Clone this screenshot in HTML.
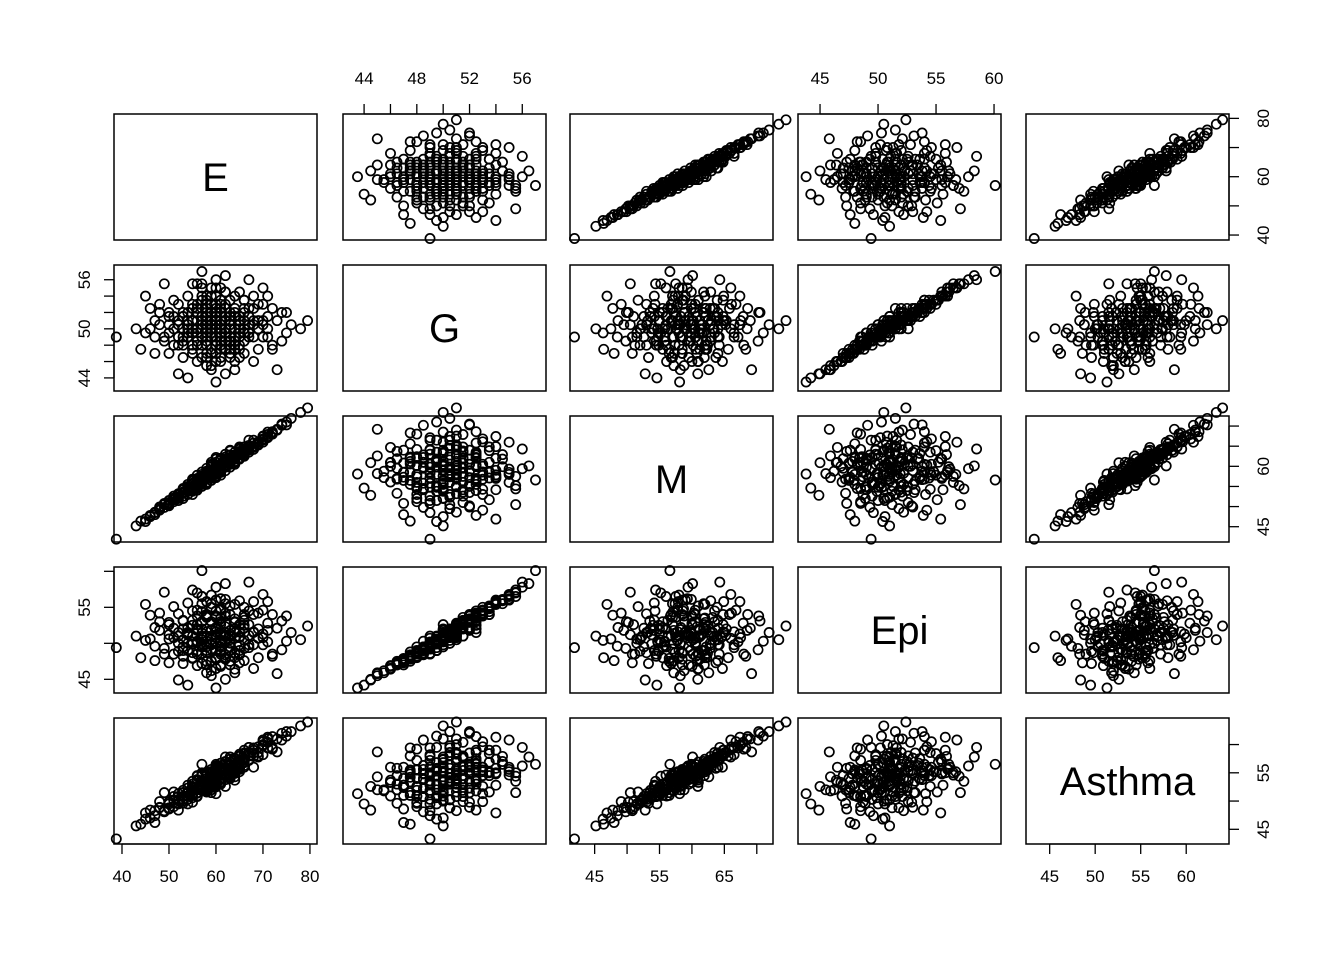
<!DOCTYPE html>
<html><head><meta charset="utf-8"><style>
body{margin:0;background:#fff}
svg{display:block;font-family:"Liberation Sans",Arial,sans-serif}
</style></head><body>
<svg id="chart" width="1344" height="960" viewBox="0 0 1344 960"></svg>
<script>
const varNames = ["E","G","M","Epi","Asthma"];
const E = [60,52,67,71,55,63,48,58,65,59,74,45,62,56,69,53,61,66,50,57,64,60,54,72,47,59,68,51,62,55,76,43,58,65,61,53,70,57,63,49,60,66,56,73,46,62,54,67,58,64,51,59,71,44,61,57,69,52,63,55,75,48,60,65,56,68,50,62,58,64,53,70,47,61,66,54,59,72,57,63,38.8,79.5,78,60,57,67,52,49,73,45,61,64,56,62,58,69,51,65,55,60,71,46,63,57,66,50,59,74,54,62,68,53,60,65,48,58,70,61,56,67,64,52,59,72,57,63,55,69,60,50,66,58,62,54,75,47,61,65,57,53,68,59,64,51,70,56,62,60,55,66,
58,61,59,62,57,60,63,56,64,55,60,58,62,59,61,57,65,54,60,63,58,61,56,66,59,62,55,64,60,57,67,53,61,58,63,59,60,56,64,62,57,59,65,54,61,60,58,63,55,66,52,68,59,62,57,60,64,56,61,58,67,53,62,59,65,55,60,63,57,61,70,50,58,64,56,62,59,66,54,60,63,57,68,52,61,58,65,55,62,60,49,71,57,64,59,53,66,61,58,63];
const G = [50,48,51.5,49,53,46.5,50.5,54,47.5,51,52,49.5,44.5,55.5,50,52,48.5,53.5,47,50,51.5,56,49,48,51,45.5,52.5,50,49.5,47.5,50.5,50,52.5,54.5,46,51.5,49,55,50.5,48.5,53,47,49.5,51,52.5,56.5,44,49,51,48,53.5,50,54,47.5,52,46.5,51,50.5,53.5,51,49.5,53,47,50,52.5,46,51.5,54.5,48,52,46.5,53,49,50.5,49.5,54,52,47.5,49,51,49,51,50,43.5,57,56,44.5,55.5,45,54,55,45,50,51.5,49,53,48,51.5,52.5,48.5,51.5,50,47.5,53.5,51,52,55,48.5,50,47.5,54,49,51.5,46.5,52,53,50.5,49,48,50.5,54,53,47,52.5,51.5,48.5,55.5,47.5,52.5,49.5,52.5,45.5,50,51,52,47,53.5,49,50.5,48.5,50.5,54,46,51.5,55,46,52.5,50,49.5,48.5,
50.5,49.5,51,50,49,51.5,50.5,50,49,51,52,48.5,51,49,50,52.5,50.5,49.5,48,52,51.5,47.5,51,51,53,48.5,48,51.5,50.5,50,49.5,51.5,52.5,47,49,50,54,52,50,53,48,52,48,50.5,51,46,53.5,51.5,50,52,49,51,47.5,49.5,51,52.5,47.5,53,48,49.5,52.5,50,54.5,50.5,49.5,47,49,50,54,46.5,51,50.5,52,52.5,48.5,51,45,50,52,51,47,50.5,49,51,53,46.5,51,52.5,47.5,55,49,50,55.5,48.5,49.5,48,53.5,50.5,50,48];
const M = [59.1,52.0,64.8,67.1,54.3,61.9,49.5,57.9,62.1,58.2,70.5,46.3,60.9,55.2,66.0,53.5,59.5,63.9,50.8,56.3,62.1,59.4,54.8,68.0,48.6,58.8,65.8,52.1,59.8,55.5,71.9,45.2,57.0,62.9,60.0,53.6,66.5,56.0,61.6,49.8,58.6,64.0,55.2,69.0,47.8,60.1,54.6,64.0,57.8,62.4,51.7,57.7,67.4,46.4,60.5,56.8,65.3,52.3,61.0,54.9,71.0,49.1,58.5,63.4,56.7,64.7,51.0,59.9,57.4,61.8,53.3,66.8,48.5,59.0,63.5,54.2,58.9,68.3,55.8,61.2,41.9,74.5,73.4,58.1,56.6,64.3,52.8,50.5,69.2,46.9,59.3,62.6,54.7,60.8,58.2,66.1,51.2,62.0,56.3,59.8,67.9,47.5,60.6,57.1,64.1,50.2,58.0,70.2,53.8,61.2,64.9,52.6,58.3,63.7,49.9,56.8,67.4,60.6,54.9,65.2,62.0,53.0,57.3,68.6,56.0,62.2,54.4,65.6,59.9,51.5,63.2,57.2,61.4,55.0,70.3,48.0,58.7,63.0,57.4,54.2,66.5,57.4,60.9,52.6,66.0,56.1,60.3,60.4,53.8,62.8,
56.0,61.5,60.2,58.9,58.6,57.5,62.8,54.1,60.5,56.8,61.8,55.8,63.0,57.0,60.0,55.5,64.5,54.8,58.0,60.5,59.5,58.5,57.0,62.5,57.8,61.0,53.0,63.5,58.2,57.5,66.5,54.2,62.0,58.5,59.8,60.5,59.0,55.0,61.2,60.0,56.0,57.2,64.2,53.0,59.5,61.0,58.5,63.8,55.8,64.0,51.5,65.0,56.5,61.2,55.0,62.2,62.0,57.8,60.2,58.0,63.5,52.0,61.8,59.8,61.8,56.5,57.2,64.0,57.0,59.5,67.5,50.5,58.8,62.8,54.5,60.0,58.2,63.2,55.5,59.0,60.8,58.0,64.2,53.2,60.5,57.0,64.8,54.0,62.3,58.5,50.8,68.5,57.5,61.0,61.0,54.5,64.8,57.8,55.5,62.0];
const Epi = [51.2,48.9,52.6,50.2,54.5,47.0,51.8,55.8,48.4,51.9,53.1,50.4,45.0,57.0,50.7,53.1,49.5,55.0,47.3,51.0,52.9,57.8,50.0,48.5,52.2,46.2,54.0,50.8,50.3,48.0,51.5,51.0,53.6,55.9,46.8,52.0,49.8,56.5,51.3,49.3,54.5,47.6,50.1,52.1,53.9,58.3,44.2,49.8,51.6,48.6,55.1,50.5,55.8,48.0,53.0,47.2,52.0,51.0,55.2,52.5,50.3,54.2,47.8,50.9,53.8,46.5,52.6,56.1,48.7,53.4,47.2,54.6,49.6,51.5,50.4,55.6,53.0,48.2,49.7,51.8,49.4,52.4,50.5,43.8,60.1,58.5,44.9,57.1,45.8,55.4,56.2,45.9,50.3,52.3,49.9,54.2,48.5,52.6,53.2,49.0,52.8,50.6,48.2,54.4,52.1,52.9,56.7,49.1,51.2,47.8,55.8,49.5,52.2,47.3,53.0,54.0,51.3,50.1,48.9,51.1,55.4,54.1,47.6,54.0,52.0,49.5,57.4,48.0,53.8,50.6,53.6,45.9,51.1,51.3,53.8,47.6,54.8,49.8,51.4,49.0,51.6,55.5,46.4,52.1,56.8,46.9,54.2,50.8,49.9,49.3,
52.0,49.0,50.5,51.5,48.6,53.6,50.0,51.8,50.7,51.0,52.0,50.3,51.0,49.2,52.6,53.0,50.8,49.0,48.0,54.0,51.0,48.8,52.6,52.5,55.0,48.4,48.7,53.0,50.0,50.9,49.4,53.2,53.5,47.0,51.0,49.8,56.0,52.0,52.0,53.8,49.5,51.8,48.5,51.5,51.2,46.5,54.0,51.0,50.2,53.2,50.0,51.5,47.5,50.9,50.5,52.0,48.0,54.6,48.5,49.0,54.5,50.5,55.5,51.8,49.0,47.9,50.0,50.5,55.5,47.0,50.8,51.2,53.8,51.5,48.5,52.8,45.5,51.5,52.2,51.6,47.5,51.0,49.8,51.5,54.6,47.5,51.6,52.5,48.0,56.0,48.5,51.8,56.5,48.7,51.0,48.2,54.0,50.4,49.5,49.0];
const Asthma = [54.3,49.6,58.0,59.4,52.6,54.5,48.8,55.0,55.2,53.9,62.0,46.8,52.6,54.4,57.8,51.5,53.8,58.4,48.6,52.7,56.3,56.2,51.5,59.2,48.3,52.0,59.0,50.2,54.4,51.0,62.3,45.6,54.0,57.9,53.3,51.9,58.2,54.6,55.8,48.1,55.5,56.0,52.0,61.0,48.4,57.8,49.5,57.2,53.6,55.5,51.6,53.4,61.3,45.9,55.4,52.0,58.6,50.2,56.9,52.4,61.5,49.9,52.8,56.8,53.8,56.0,49.9,56.5,52.6,56.3,49.6,60.5,47.4,54.1,56.8,52.8,54.8,59.4,51.9,55.7,43.3,64.0,63.3,51.3,56.5,59.5,48.4,51.5,58.7,47.9,56.0,54.3,51.5,55.4,53.6,59.6,49.0,56.0,53.5,54.0,60.4,47.0,54.2,54.5,57.5,49.8,55.2,60.8,50.9,54.8,59.0,50.3,54.0,55.8,48.9,54.5,59.8,54.6,50.9,58.6,57.4,51.3,52.4,61.4,52.9,55.6,53.5,58.0,55.4,49.5,57.5,51.8,55.9,51.6,62.3,46.2,55.2,56.0,53.4,50.8,59.4,55.0,53.7,50.8,60.8,50.9,56.0,55.0,50.6,56.3,
53.0,55.8,54.9,53.8,53.5,53.9,56.5,51.4,55.0,53.0,56.0,52.2,56.9,52.8,55.3,53.0,58.0,50.9,52.5,56.5,54.5,53.4,53.6,57.0,55.2,54.8,49.8,57.6,53.6,53.4,59.5,51.5,56.7,52.8,54.8,55.0,55.8,52.3,56.0,56.0,51.9,53.5,57.2,50.3,54.6,53.3,55.0,57.8,52.0,58.5,49.5,58.5,51.5,55.3,52.4,56.5,55.2,54.5,54.0,53.0,58.6,50.0,57.0,54.8,55.6,51.0,53.1,57.4,54.8,53.0,60.0,48.8,55.0,57.1,50.8,55.3,52.0,57.3,52.3,54.5,54.0,53.6,57.9,50.8,56.0,52.0,58.3,51.8,55.5,55.6,48.3,61.0,55.0,54.9,55.6,50.8,59.0,53.3,51.6,55.6];
const seriesList = [E,G,M,Epi,Asthma];
const domains = [[38.3,81.5],[42.4,57.8],[41.2,72.5],[43.1,60.6],[42.4,64.7]];
const ticksE = [40,50,60,70,80];
const ticksG = [44,46,48,50,52,54,56];
const ticksM = [45,50,55,60,65,70];
const ticksEpi = [45,50,55,60];
const ticksAsthma = [45,50,55,60];
const tickList = [ticksE,ticksG,ticksM,ticksEpi,ticksAsthma];
const hLabels = [[40,50,60,70,80],[44,48,52,56],[45,55,65],[45,50,55,60],[45,50,55,60]];
const vLabels = [[40,60,80],[44,50,56],[45,60],[45,55],[45,55]];

const NS="http://www.w3.org/2000/svg";
const svg=document.getElementById('chart');
const colX=[114,343,570,798,1026], rowY=[114,265,416,567,718], PW=203, PH=126;
function mk(t,a,p){const e=document.createElementNS(NS,t);for(const k in a)e.setAttribute(k,a[k]);(p||svg).appendChild(e);return e;}
function xScale(v,c){const d=domains[v];return x=>colX[c]+(x-d[0])/(d[1]-d[0])*PW;}
function yScale(v,r){const d=domains[v];return y=>rowY[r]+PH-(y-d[0])/(d[1]-d[0])*PH;}

for(let r=0;r<5;r++)for(let c=0;c<5;c++){
  const g=mk('g',{});
  
  
  if(r===c){
    const t=mk('text',{x:colX[c]+PW/2,y:rowY[r]+PH/2+14,'text-anchor':'middle','font-size':40},g);
    t.textContent=varNames[r];
    
    
  } else {
    const xs=xScale(c,c), ys=yScale(r,r), X=seriesList[c], Y=seriesList[r];
    for(let i=0;i<X.length;i++){
      const p=mk('circle',{cx:xs(X[i]).toFixed(1),cy:ys(Y[i]).toFixed(1),r:4.6,fill:'none',stroke:'#000','stroke-width':1.7},g);
      
      
    }
  }
  const b=mk('rect',{x:colX[c],y:rowY[r],width:PW,height:PH,fill:'none',stroke:'#000','stroke-width':1.5},g);
  
  
}
const TL=10;
for(let c=0;c<5;c++){
  const top=(c%2===1);
  const ax=mk('g',{});
  
  
  const xs=xScale(c,c), tk=tickList[c];
  const y0=top?rowY[0]:rowY[4]+PH, dir=top?-1:1;
  mk('line',{x1:xs(tk[0]),x2:xs(tk[tk.length-1]),y1:y0,y2:y0,stroke:'#000','stroke-width':1.3},ax);
  tk.forEach(v=>mk('line',{x1:xs(v),x2:xs(v),y1:y0,y2:y0+dir*TL,stroke:'#000','stroke-width':1.3},ax));
  hLabels[c].forEach(v=>{const t=mk('text',{x:xs(v),y:top?y0-30:y0+38,'text-anchor':'middle','font-size':17},ax);t.textContent=v;});
}
for(let r=0;r<5;r++){
  const left=(r%2===1);
  const ax=mk('g',{});
  
  
  const ys=yScale(r,r), tk=tickList[r];
  const x0=left?colX[0]:colX[4]+PW, dir=left?-1:1;
  mk('line',{x1:x0,x2:x0,y1:ys(tk[0]),y2:ys(tk[tk.length-1]),stroke:'#000','stroke-width':1.3},ax);
  tk.forEach(v=>mk('line',{x1:x0,x2:x0+dir*TL,y1:ys(v),y2:ys(v),stroke:'#000','stroke-width':1.3},ax));
  vLabels[r].forEach(v=>{const lx=left?x0-30:x0+34;const t=mk('text',{x:lx,y:ys(v),'text-anchor':'middle','font-size':17,transform:`rotate(-90 ${lx} ${ys(v)})`,dy:'0.35em'},ax);t.textContent=v;});
}
</script>
</body></html>
